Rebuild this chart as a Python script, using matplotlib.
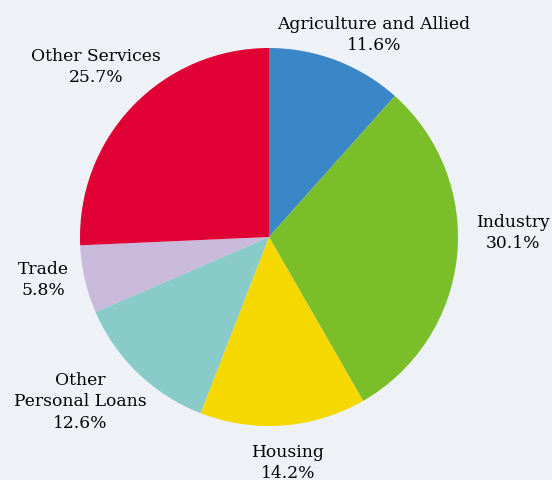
import matplotlib.pyplot as plt

labels = ["Agriculture and Allied", "Industry", "Housing",
          "Other\nPersonal Loans", "Trade", "Other Services"]
shares = [11.6, 30.1, 14.2, 12.6, 5.8, 25.7]
colors = ["#3a87c8", "#7abf2a", "#f5d800", "#88cbc8", "#c9b9da", "#e00034"]

# label anchor points (pixel coords, y measured from top)
label_pos = [(374, 35), (513, 233), (288, 463), (80, 402), (43, 280), (96, 67)]

bg = "#eef2f6"
fig = plt.figure(figsize=(5.52, 4.8), dpi=100, facecolor=bg)
ax = fig.add_axes([0, 0, 1, 1])
ax.set_facecolor(bg)

ax.pie(shares, colors=colors, startangle=90, counterclock=False,
       center=(269, 480 - 237), radius=189, frame=True,
       wedgeprops=dict(linewidth=0))
ax.set_xlim(0, 552)
ax.set_ylim(0, 480)
ax.axis("off")

for lab, val, (x, y) in zip(labels, shares, label_pos):
    ax.text(x, 480 - y, f"{lab}\n{val:.1f}%", ha="center", va="center",
            fontsize=12.3, family="DejaVu Serif", color="#000000",
            linespacing=1.38)

fig.savefig("out.png", dpi=100, facecolor=bg)
